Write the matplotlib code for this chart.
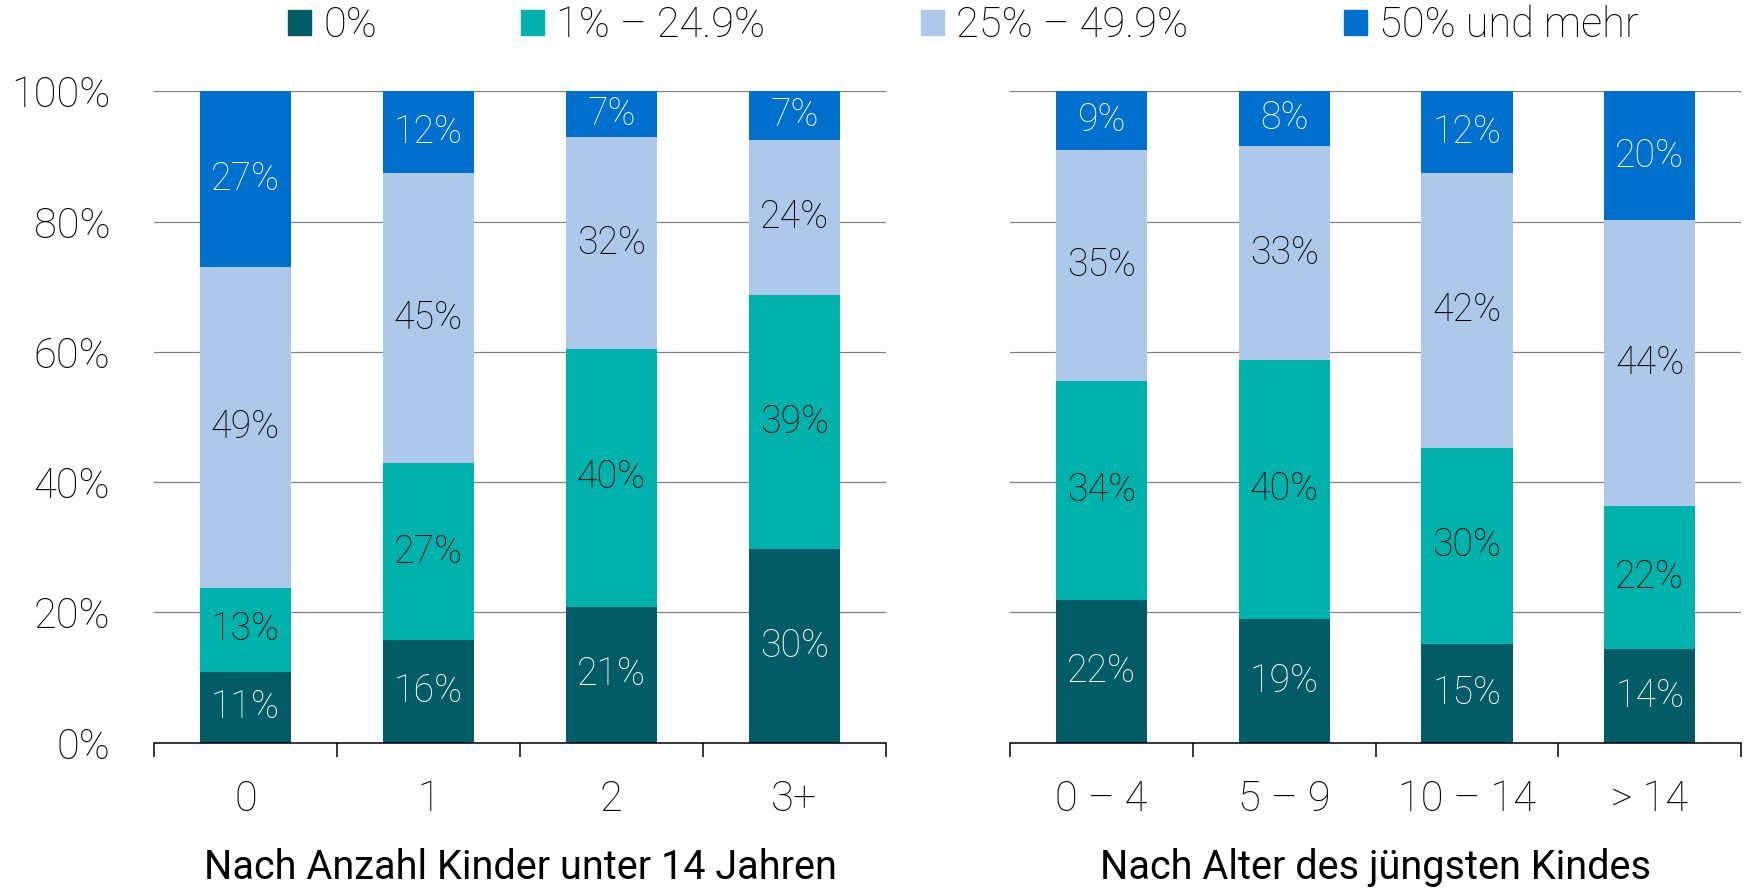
import numpy as np
import matplotlib
matplotlib.use("Agg")
import matplotlib.pyplot as plt
from matplotlib.patches import Patch

plt.rcParams['font.family'] = ['Roboto', 'DejaVu Sans']
plt.rcParams['font.weight'] = 'light'

# Daten
serien = ["0%", "1% – 24.9%", "25% – 49.9%", "50% und mehr"]
farben = ["#025C66", "#00B2AC", "#ADC8E9", "#0070CE"]
textfarben = ["white", "black", "black", "white"]

kat_links = ["0", "1", "2", "3+"]
links_0 = [10.9, 15.7, 20.9, 29.7]
links_1 = [12.9, 27.2, 39.6, 39.0]
links_25 = [49.2, 44.6, 32.5, 23.9]
links_50 = [27.0, 12.5, 7.0, 7.4]

kat_rechts = ["0 – 4", "5 – 9", "10 – 14", "> 14"]
rechts_0 = [21.9, 19.0, 15.2, 14.4]
rechts_1 = [33.7, 39.8, 30.1, 22.0]
rechts_25 = [35.4, 32.8, 42.2, 43.8]
rechts_50 = [9.0, 8.4, 12.5, 19.8]

y_ticks = [0, 20, 40, 60, 80, 100]


def zeichne_panel(ax, kategorien, werte, titel, ylabels):
    x = np.arange(len(kategorien))
    unten = np.zeros(len(kategorien))
    for i, w in enumerate(werte):
        w = np.array(w)
        ax.bar(x, w, bottom=unten, width=0.5, color=farben[i], zorder=3)
        for xi, b, h in zip(x, unten, w):
            ax.text(xi, b + h / 2, f"{round(h):.0f}%", ha='center', va='center',
                    fontsize=27, color=textfarben[i], zorder=4)
        unten = unten + w

    ax.set_xlim(-0.5, len(kategorien) - 0.5)
    ax.set_ylim(0, 100)
    ax.set_yticks(y_ticks)
    if ylabels:
        ax.set_yticklabels([f"{v}%" for v in y_ticks], fontsize=30)
    else:
        ax.set_yticklabels([])
    ax.tick_params(axis='y', length=0, pad=31.5)
    ax.yaxis.grid(True, color='#808080', linewidth=0.9, zorder=0)

    # Striche zwischen den Kategorien, Beschriftung in der Mitte
    ax.set_xticks(np.arange(len(kategorien) + 1) - 0.5)
    ax.set_xticklabels([])
    ax.set_xticks(x, minor=True)
    ax.set_xticklabels(kategorien, minor=True, fontsize=30)
    ax.tick_params(axis='x', which='major', direction='out', length=10, width=1.1, color='black')
    ax.tick_params(axis='x', which='minor', length=0, pad=26)
    ax.set_xlabel(titel, fontsize=28.5, labelpad=20)

    for s in ['top', 'right', 'left']:
        ax.spines[s].set_visible(False)
    ax.spines['bottom'].set_linewidth(1.1)
    ax.spines['bottom'].set_zorder(5)


fig = plt.figure(figsize=(17.46, 8.9), dpi=100)
ax1 = fig.add_axes([0.0882, 0.1655, 0.4192, 0.7319])
ax2 = fig.add_axes([0.5785, 0.1655, 0.4187, 0.7319])

zeichne_panel(ax1, kat_links, [links_0, links_1, links_25, links_50],
              "Nach Anzahl Kinder unter 14 Jahren", True)
zeichne_panel(ax2, kat_rechts, [rechts_0, rechts_1, rechts_25, rechts_50],
              "Nach Alter des jüngsten Kindes", False)

# Legende: vier Einträge einzeln positioniert
leg_x = [0.165, 0.2984, 0.5275, 0.7698]
for name, farbe, lx in zip(serien, farben, leg_x):
    fig.legend(handles=[Patch(color=farbe, label=name)], loc='center left',
               bbox_to_anchor=(lx, 0.971), frameon=False, fontsize=30,
               handlelength=0.55, handleheight=0.55, handletextpad=0.3,
               borderpad=0, borderaxespad=0)

fig.savefig("out.png", dpi=100)
